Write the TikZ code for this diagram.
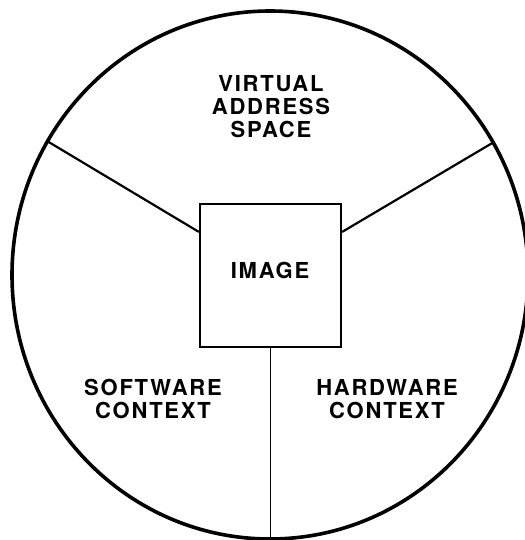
\documentclass[tikz,border=0pt]{standalone}
\usepackage{fontspec}
\setmainfont{TeX Gyre Heros}[LetterSpace=8]
\usetikzlibrary{calc}
\begin{document}
\begin{tikzpicture}[x=1pt,y=-1pt,
  lbl/.style={anchor=base,inner sep=0pt,align=center,font=\fontsize{22}{23}\selectfont\bfseries},
  boxstyle/.style={draw,line width=2.2pt,minimum width=141pt,minimum height=143pt,inner sep=0pt},
  spoke/.style={line width=2.2pt}]
\useasboundingbox (0,0) rectangle (524,540);
\fill[white] (0,0) rectangle (524,540);
\draw[line width=3.6pt] (270,275) ellipse [x radius=258pt, y radius=264pt];
\node[boxstyle] (img) at (270.5,275.5) {};
\node[lbl] (imgtext) at (270,278) {IMAGE};
\coordinate (cl) at (47,141);
\coordinate (cr) at (494,142);
\coordinate (cb) at (270,541);
\draw[spoke] ($(img.north west)!0.2!(img.south west)$) -- (cl);
\draw[spoke] ($(img.north east)!0.2!(img.south east)$) -- (cr);
\draw[line width=1.8pt] (img.south) -- (img.south |- cb);
\node[lbl] (vas) at (271,138) {VIRTUAL\\ADDRESS\\SPACE};
\node[lbl] (sw) at (153,418) {SOFTWARE\\CONTEXT};
\node[lbl] (hw) at (387,418) {HARDWARE\\CONTEXT};
\end{tikzpicture}
\end{document}
